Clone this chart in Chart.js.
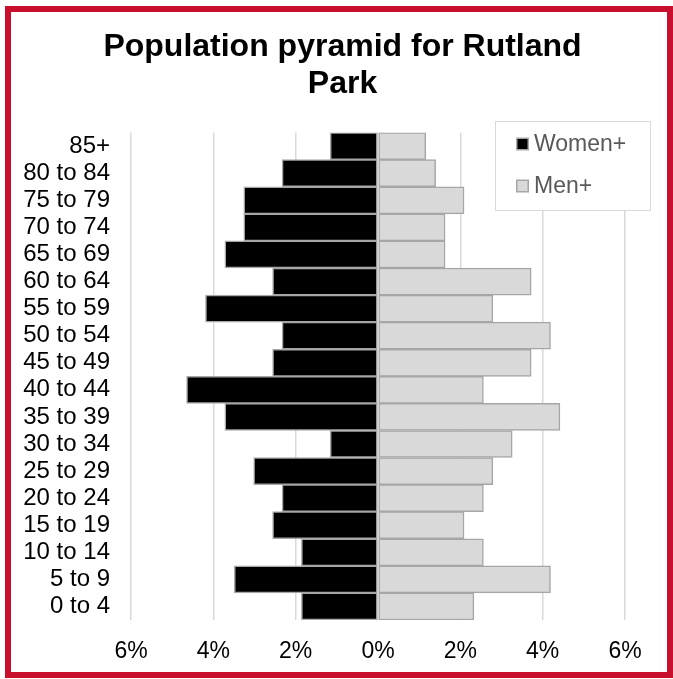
<!DOCTYPE html>
<html>
<head>
<meta charset="utf-8">
<script src="https://cdn.jsdelivr.net/npm/chart.js@4/dist/chart.umd.min.js"></script>
<style>
  html, body { margin: 0; padding: 0; background: #fff; }
  #wrap { position: relative; width: 673px; height: 679px; overflow: hidden; }
  #frame { position: absolute; left: 5px; top: 6px; width: 656px; height: 660px;
           border: 6px solid #c8102e; pointer-events: none; }
  #c { position: absolute; left: 0; top: 0; }
</style>
</head>
<body>
<div id="wrap">
  <canvas id="c" width="673" height="679"></canvas>
  <div id="frame"></div>
</div>
<script>
// Age bands, oldest at the top
const ageGroups = ['85+', '80 to 84', '75 to 79', '70 to 74', '65 to 69', '60 to 64',
  '55 to 59', '50 to 54', '45 to 49', '40 to 44', '35 to 39', '30 to 34',
  '25 to 29', '20 to 24', '15 to 19', '10 to 14', '5 to 9', '0 to 4'];

// Share of the total population (%)
const womenPct = [1.16, 2.33, 3.26, 3.26, 3.72, 2.56, 4.19, 2.33, 2.56, 4.65,
  3.72, 1.16, 3.02, 2.33, 2.56, 1.86, 3.49, 1.86];
const menPct = [1.16, 1.40, 2.09, 1.63, 1.63, 3.72, 2.79, 4.19, 3.72, 2.56,
  4.42, 3.26, 2.79, 2.56, 2.09, 2.56, 4.19, 2.33];

const seriesNames = ['Women+', 'Men+'];
const titleLines = ['Population pyramid for Rutland', 'Park'];

const FONT = '"Liberation Sans", Arial, sans-serif';

// Boxed legend drawn over the top-right of the plot
const boxLegend = {
  id: 'boxLegend',
  afterDatasetsDraw(chart) {
    const ctx = chart.ctx;
    const x = 495, y = 121, w = 156, h = 90;
    ctx.save();
    ctx.fillStyle = '#ffffff';
    ctx.fillRect(x, y, w, h);
    ctx.strokeStyle = '#d9d9d9';
    ctx.lineWidth = 1;
    ctx.strokeRect(x + 0.5, y + 0.5, w - 1, h - 1);
    ctx.font = '23px ' + FONT;
    ctx.textBaseline = 'middle';
    chart.data.datasets.forEach((ds, i) => {
      const cy = 144 + i * 42;
      ctx.fillStyle = ds.borderColor;
      ctx.fillRect(516, cy - 6.5, 13, 13);
      ctx.fillStyle = ds.backgroundColor;
      ctx.fillRect(517.5, cy - 5, 10, 10);
      ctx.fillStyle = '#595959';
      ctx.fillText(ds.label, 534, cy + 1);
    });
    ctx.restore();
  }
};

new Chart(document.getElementById('c'), {
  type: 'bar',
  data: {
    labels: ageGroups,
    datasets: [
      {
        label: seriesNames[0],
        data: womenPct.map(v => -v),
        backgroundColor: '#000000',
        borderColor: '#a6a6a6',
        borderWidth: 1.5,
        borderSkipped: false
      },
      {
        label: seriesNames[1],
        data: menPct,
        backgroundColor: '#d9d9d9',
        borderColor: '#a6a6a6',
        borderWidth: 1.5,
        borderSkipped: false
      }
    ]
  },
  options: {
    indexAxis: 'y',
    responsive: false,
    animation: false,
    devicePixelRatio: 1,
    barPercentage: 1,
    categoryPercentage: 1,
    layout: { padding: { left: 12, right: 0, top: 0, bottom: 0 } },
    plugins: {
      legend: { display: false },
      tooltip: { enabled: false },
      title: {
        display: true,
        text: titleLines,
        color: '#000000',
        font: { family: FONT, size: 32, weight: 'bold', lineHeight: 1.15 },
        padding: { top: 29, bottom: 30 }
      }
    },
    scales: {
      x: {
        stacked: true,
        min: -6,
        max: 6,
        ticks: {
          stepSize: 2,
          padding: 18,
          color: '#000000',
          font: { family: FONT, size: 23 },
          callback: v => Math.abs(v) + '%'
        },
        grid: { color: '#d9d9d9', lineWidth: 1.5, drawTicks: false },
        border: { display: false },
        afterFit: s => { s.height = 59; }
      },
      y: {
        stacked: true,
        ticks: {
          padding: 21,
          color: '#000000',
          font: { family: FONT, size: 24 },
          autoSkip: false
        },
        grid: { display: false, drawTicks: false },
        border: { display: false },
        afterFit: s => { s.width = 119; }
      },
      // empty margin on the right of the plot
      yRight: {
        type: 'category',
        position: 'right',
        ticks: { display: false },
        grid: { display: false, drawTicks: false },
        border: { display: false },
        afterFit: s => { s.width = 48; }
      }
    }
  },
  plugins: [boxLegend]
});
</script>
</body>
</html>
